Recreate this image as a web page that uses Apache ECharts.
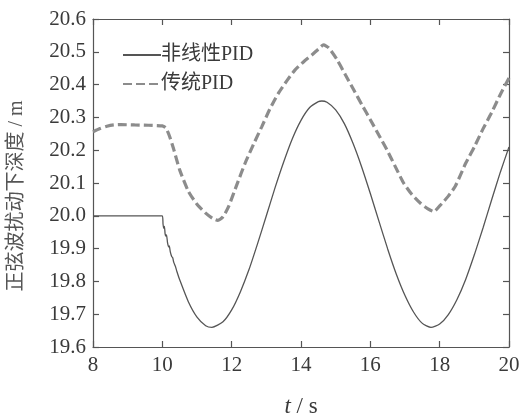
<!DOCTYPE html>
<html>
<head>
<meta charset="utf-8">
<script src="https://cdn.jsdelivr.net/npm/echarts@6/dist/echarts.min.js"></script>
<style>html,body{margin:0;padding:0;background:#fff;}#c{width:520px;height:414px;}</style>
</head>
<body>
<div id="c"></div>
<script>
// Data
const seriesNames = ['非线性PID', '传统PID'];
const tSolid = [8, 10.0, 10.02, 10.04, 10.06, 10.08, 10.1, 10.12, 10.15, 10.18, 10.2, 10.23, 10.27, 10.3, 10.33, 10.38, 10.42, 10.5, 10.75, 11.0, 11.25, 11.43, 11.75, 12.0, 12.25, 12.5, 12.75, 13.0, 13.25, 13.5, 13.75, 14.0, 14.25, 14.5, 14.6, 14.75, 15.0, 15.25, 15.5, 15.75, 16.0, 16.25, 16.5, 16.75, 17.0, 17.25, 17.5, 17.75, 18.0, 18.25, 18.5, 18.75, 19.0, 19.25, 19.5, 19.75, 20.0];
const vSolid = [20.0, 20.0, 19.975, 19.962, 19.968, 19.945, 19.938, 19.942, 19.918, 19.905, 19.908, 19.89, 19.876, 19.872, 19.858, 19.845, 19.83, 19.805, 19.738, 19.691, 19.665, 19.660, 19.677, 19.713, 19.768, 19.836, 19.916, 20.000, 20.085, 20.164, 20.235, 20.291, 20.330, 20.348, 20.350, 20.346, 20.323, 20.281, 20.221, 20.149, 20.068, 19.983, 19.899, 19.822, 19.757, 19.706, 19.672, 19.660, 19.670, 19.699, 19.745, 19.806, 19.881, 19.963, 20.049, 20.133, 20.210];
const tDashed = [8.0, 8.2, 8.4, 8.6, 8.8, 9.2, 9.6, 10.0, 10.1, 10.2, 10.32, 10.5, 10.75, 11.0, 11.25, 11.45, 11.6, 11.75, 11.91, 12.15, 12.39, 12.63, 12.87, 13.1, 13.35, 13.6, 13.83, 14.1, 14.32, 14.5, 14.65, 14.8, 15.04, 15.28, 15.52, 15.76, 16.0, 16.24, 16.48, 16.72, 16.96, 17.2, 17.44, 17.65, 17.83, 18.0, 18.25, 18.45, 18.75, 19.0, 19.25, 19.5, 19.75, 20.0];
const vDashed = [20.256, 20.266, 20.273, 20.277, 20.278, 20.277, 20.276, 20.274, 20.268, 20.245, 20.206, 20.14, 20.075, 20.035, 20.008, 19.992, 19.986, 19.997, 20.028, 20.095, 20.161, 20.218, 20.272, 20.325, 20.374, 20.413, 20.445, 20.472, 20.491, 20.508, 20.521, 20.512, 20.476, 20.43, 20.384, 20.338, 20.293, 20.247, 20.201, 20.15, 20.1, 20.065, 20.039, 20.022, 20.013, 20.03, 20.06, 20.09, 20.16, 20.21, 20.265, 20.315, 20.37, 20.42];
const xTicks = [8, 10, 12, 14, 16, 18, 20];
const yTicks = [19.6, 19.7, 19.8, 19.9, 20.0, 20.1, 20.2, 20.3, 20.4, 20.5, 20.6];

const zip = (a, b) => a.map((t, i) => [t, b[i]]);
const serif = 'Liberation Serif, Noto Sans CJK SC';
const axisCol = '#555';
const txtCol = '#3a3a3a';

const baseX = {
  type: 'value', min: xTicks[0], max: xTicks[xTicks.length - 1], interval: 2,
  axisLine: { lineStyle: { color: axisCol, width: 1.2 } },
  axisTick: { inside: true, length: 6, lineStyle: { color: axisCol, width: 1.2 } },
  splitLine: { show: false }
};
const baseY = {
  type: 'value', min: yTicks[0], max: yTicks[yTicks.length - 1], interval: 0.1,
  axisLine: { lineStyle: { color: axisCol, width: 1.2 } },
  axisTick: { inside: true, length: 6, lineStyle: { color: axisCol, width: 1.2 } },
  splitLine: { show: false }
};

const chart = echarts.init(document.getElementById('c'), null, { renderer: 'canvas' });
chart.setOption({
  backgroundColor: '#fff',
  animation: false,
  grid: { left: 93, right: 11, top: 19, bottom: 67, containLabel: false, outerBoundsMode: 'none' },
  legend: {
    orient: 'vertical', left: 117, top: 40, itemWidth: 38, itemHeight: 14, itemGap: 9,
    itemStyle: { color: 'rgba(0,0,0,0)', borderWidth: 0 },
    textStyle: { fontFamily: serif, fontSize: 20, color: txtCol, padding: [0, 0, 0, -5] },
    data: seriesNames
  },
  xAxis: [
    Object.assign({}, baseX, {
      position: 'bottom',
      axisLabel: { fontFamily: serif, fontSize: 21, color: txtCol, margin: 8 },
      name: '{i|t} / s', nameLocation: 'middle', nameGap: 48,
      nameTextStyle: {
        fontFamily: serif, fontSize: 23, color: txtCol,
        rich: { i: { fontFamily: serif, fontStyle: 'italic', fontSize: 23, color: txtCol } }
      }
    }),
    Object.assign({}, baseX, { position: 'top', axisLabel: { show: false } })
  ],
  yAxis: [
    Object.assign({}, baseY, {
      position: 'left',
      axisLabel: { fontFamily: serif, fontSize: 21, color: txtCol, margin: 7, formatter: v => v.toFixed(1) },
      name: '正弦波扰动下深度 / m', nameLocation: 'middle', nameGap: 66,
      nameTextStyle: { fontFamily: serif, fontSize: 20, color: '#555', padding: [0, 26, 0, 0] }
    }),
    Object.assign({}, baseY, { position: 'right', axisLabel: { show: false } })
  ],
  series: [
    {
      name: seriesNames[0], type: 'line', data: zip(tSolid, vSolid), smooth: 0.2,
      symbol: 'none', lineStyle: { color: '#555', width: 1.3, type: 'solid' }, itemStyle: { color: '#555' }
    },
    {
      name: seriesNames[1], type: 'line', data: zip(tDashed, vDashed), smooth: 0.2,
      symbol: 'none', lineStyle: { color: '#8c8c8c', width: 3.2, type: [9, 4] }, itemStyle: { color: '#8c8c8c' }
    }
  ]
});
</script>
</body>
</html>
